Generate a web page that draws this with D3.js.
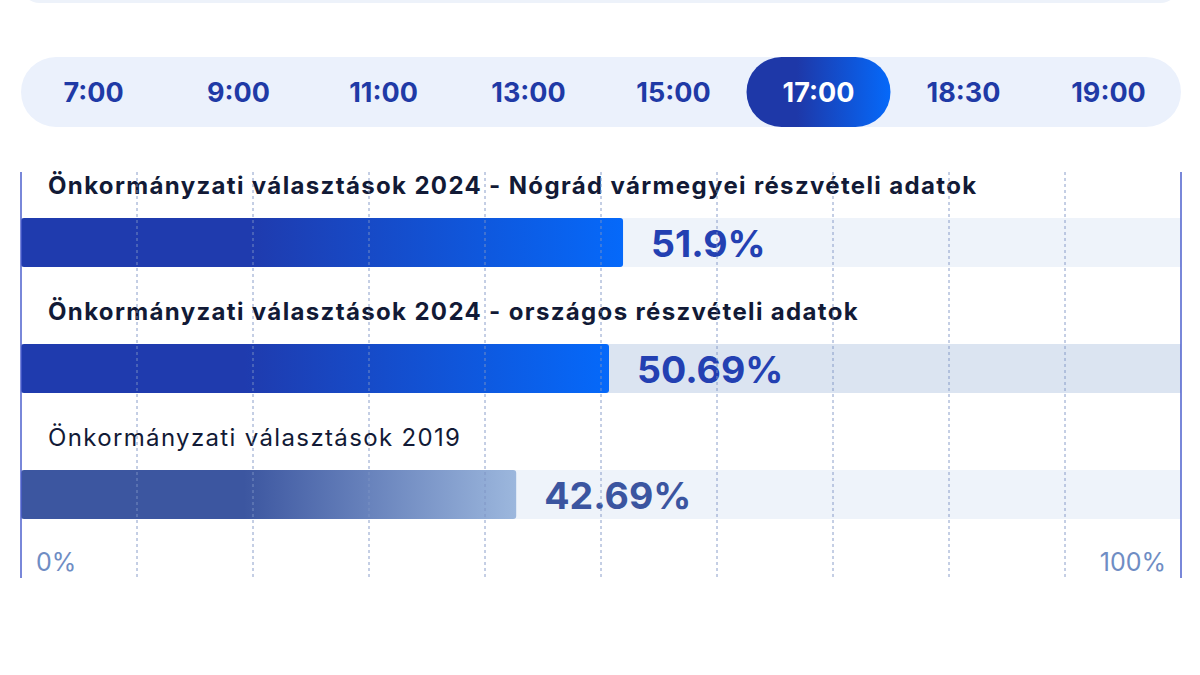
<!DOCTYPE html>
<head>
    <meta charset="utf-8">
    <title>Részvételi adatok</title>
    <script src="https://d3js.org/d3.v7.min.js"></script>
    <style>
        body { margin: 0; background: #fff; }
        svg { display: block; font-family: Inter, "Noto Sans", sans-serif; }
    </style>
</head>
<body>
    <script>
        // time tabs
        const times = ["7:00", "9:00", "11:00", "13:00", "15:00", "17:00", "18:30", "19:00"]
        const activeTime = "17:00"

        // turnout rows
        const titles = [
            "Önkormányzati választások 2024 - Nógrád vármegyei részvételi adatok",
            "Önkormányzati választások 2024 - országos részvételi adatok",
            "Önkormányzati választások 2019"
        ]
        const values = [51.9, 50.69, 42.69]
        const valueLabels = ["51.9%", "50.69%", "42.69%"]
        const axisLabels = ["0%", "100%"]
        const gridTicks = [10, 20, 30, 40, 50, 60, 70, 80, 90]

        const width = 1200
        const height = 675
        const left = 21, right = 1181

        const svg = d3.select("body").append("svg")
            .attr("width", width)
            .attr("height", height)

        const defs = svg.append("defs")
        const g1 = defs.append("linearGradient").attr("id", "grad-now")
        g1.append("stop").attr("offset", "0.38").attr("stop-color", "#1f3bae")
        g1.append("stop").attr("offset", "1").attr("stop-color", "#0569fa")
        const g2 = defs.append("linearGradient").attr("id", "grad-old")
        g2.append("stop").attr("offset", "0.45").attr("stop-color", "#3c56a0")
        g2.append("stop").attr("offset", "1").attr("stop-color", "#9cb7dd")
        const g3 = defs.append("linearGradient").attr("id", "grad-tab")
        g3.append("stop").attr("offset", "0.35").attr("stop-color", "#1e38a8")
        g3.append("stop").attr("offset", "1").attr("stop-color", "#0569fa")

        // remains of the box above
        svg.append("rect")
            .attr("x", 20).attr("y", -40).attr("width", 1160).attr("height", 43)
            .attr("rx", 20).attr("fill", "#edf2fa")

        // tab strip
        const tabX = d3.scaleBand().domain(times).range([21, 1181])
        svg.append("rect")
            .attr("x", 21).attr("y", 57).attr("width", 1160).attr("height", 70)
            .attr("rx", 35).attr("fill", "#ebf1fc")

        const tabs = svg.append("g").selectAll("g")
            .data(times)
            .join("g")
            .attr("transform", (d) => `translate(${tabX(d) + tabX.bandwidth() / 2}, 92)`)

        tabs.filter((d) => d === activeTime).append("rect")
            .attr("x", -72).attr("y", -35).attr("width", 144).attr("height", 70)
            .attr("rx", 35).attr("fill", "url(#grad-tab)")

        tabs.append("text")
            .text((d) => d)
            .attr("text-anchor", "middle")
            .attr("dy", "0.36em")
            .attr("font-size", 27)
            .attr("font-weight", 700)
            .attr("fill", (d) => d === activeTime ? "#ffffff" : "#1f3aa6")

        // bar chart
        const x = d3.scaleLinear().domain([0, 100]).range([left, right])
        const rowTop = 172, rowStep = 126

        const rows = svg.append("g").selectAll("g")
            .data(values)
            .join("g")
            .attr("transform", (d, i) => `translate(0, ${rowTop + i * rowStep})`)

        rows.append("text")
            .text((d, i) => titles[i])
            .attr("x", 48).attr("y", 22)
            .attr("font-size", 24)
            .attr("letter-spacing", 1.35)
            .attr("font-weight", (d, i) => i < 2 ? 700 : 400)
            .attr("fill", "#121a36")

        rows.append("rect")
            .attr("x", x(0)).attr("y", 46)
            .attr("width", x(100) - x(0)).attr("height", 49)
            .attr("fill", (d, i) => i === 1 ? "#dbe4f1" : "#eef3fa")

        rows.append("rect")
            .attr("x", x(0)).attr("y", 46)
            .attr("width", (d) => x(d) - x(0)).attr("height", 49)
            .attr("rx", 3)
            .attr("fill", (d, i) => i < 2 ? "url(#grad-now)" : "url(#grad-old)")

        rows.append("text")
            .text((d, i) => valueLabels[i])
            .attr("x", (d) => x(d) + 28).attr("y", 71)
            .attr("dy", "0.36em")
            .attr("font-size", 37.5)
            .attr("font-weight", 700)
            .attr("fill", (d, i) => i < 2 ? "#2340b2" : "#3b55a0")

        // dashed grid over the bars
        svg.append("g").selectAll("line")
            .data(gridTicks)
            .join("line")
            .attr("x1", (d) => x(d)).attr("x2", (d) => x(d))
            .attr("y1", 172).attr("y2", 578)
            .attr("stroke", "#7d93c4")
            .attr("stroke-width", 0.9)
            .attr("stroke-dasharray", "3,3")

        svg.append("g").selectAll("line")
            .data([0, 100])
            .join("line")
            .attr("x1", (d) => x(d)).attr("x2", (d) => x(d))
            .attr("y1", 172).attr("y2", 578)
            .attr("stroke", "#4d5fcc")
            .attr("stroke-width", 1.5)

        svg.append("g").selectAll("text")
            .data([0, 100])
            .join("text")
            .text((d, i) => axisLabels[i])
            .attr("x", (d) => d === 0 ? x(d) + 15 : x(d) - 15)
            .attr("y", 562)
            .attr("dy", "0.36em")
            .attr("text-anchor", (d) => d === 0 ? "start" : "end")
            .attr("font-size", 25)
            .attr("fill", "#6f8dc4")
    </script>
</body>
